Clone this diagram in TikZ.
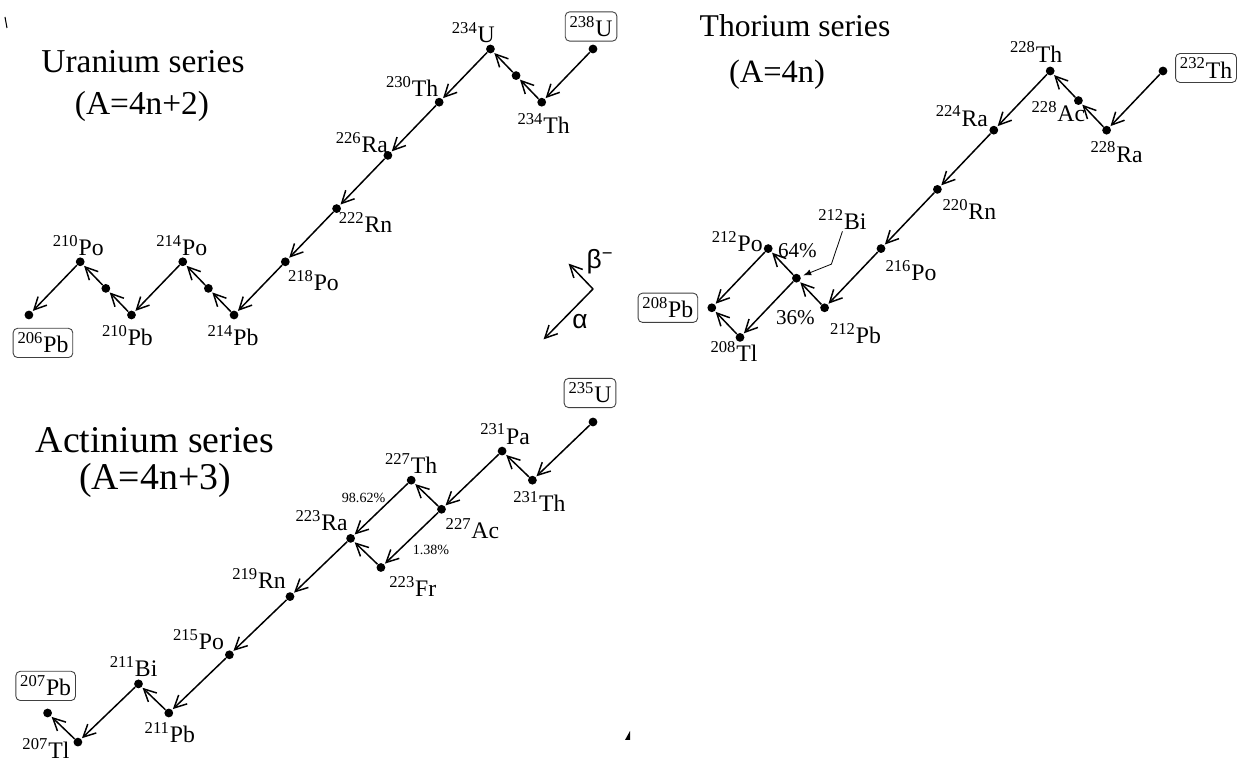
\documentclass[tikz,border=0pt]{standalone}
\usepackage{fontspec}
\setmainfont{Liberation Serif}
\newfontfamily\greekfont{Liberation Sans}
\usetikzlibrary{arrows.meta}

\newcommand{\nuc}[2]{\textsuperscript{#1}#2}

\tikzset{
    dot/.style={circle, fill, inner sep=0pt, minimum size=5pt},
    iso/.style={font=\fontsize{13.5}{15}\selectfont, inner sep=1pt},
    endbox/.style={iso, draw=black!75, line width=0.5pt, rounded corners=2.5pt, inner sep=2.5pt},
    decay/.style={line width=0.85pt, -{Straight Barb[length=7pt,width=7pt]}, shorten >=0.5pt},
    leader/.style={line width=0.45pt, -{Latex[length=4.5pt,width=3.5pt]}, shorten >=1.5pt},
    ttl/.style={font=\fontsize{19}{22}\selectfont, inner sep=0pt},
    frac/.style={font=\fontsize{12}{14}\selectfont, inner sep=0pt},
    smallfrac/.style={font=\fontsize{8}{10}\selectfont, inner sep=0pt},
}

\begin{document}
\begin{tikzpicture}
    \useasboundingbox (0,0) rectangle (24.96,15.28);

    % stray marks of the scan
    \draw[line width=0.6pt] (0.1,14.94) -- (0.14,14.72);
    \fill (12.5,0.48) -- (12.6,0.66) -- (12.6,0.48) -- cycle;

    % Titles
    \node[ttl] (utitle) at (2.86,14.04) {Uranium series};
    \node[ttl] (uform) at (2.84,13.16) {(A=4n+2)};
    \node[ttl, font=\fontsize{18}{21}\selectfont] (ttitle) at (15.9,14.76) {Thorium series};
    \node[ttl, font=\fontsize{18.5}{21}\selectfont] (tform) at (15.54,13.78) {(A=4n)};
    \node[ttl, font=\fontsize{21.5}{24}\selectfont] (atitle) at (3.1,6.48) {Actinium series};
    \node[ttl, font=\fontsize{21.5}{24}\selectfont] (aform) at (3.1,5.68) {(A=4n+3)};

    % Legend: alpha and beta steps
    \coordinate (corner) at (11.86,9.5);
    \coordinate (btip) at (11.36,10.02);
    \coordinate (atip) at (10.86,8.48);
    \draw[decay] (corner) -- (btip);
    \draw[decay] (corner) -- (atip);
    \node[font=\greekfont\fontsize{15}{17}\selectfont, inner sep=0pt] (blab) at (12.0,10.04) {β\textsuperscript{−}};
    \node[font=\greekfont\fontsize{15}{17}\selectfont, inner sep=0pt] (alab) at (11.6,8.84) {α};

    % Uranium series, nodes at (N,Z)
    \begin{scope}[shift={(11.86,14.30)}, x=0.5128cm, y=0.532cm, shift={(-146,-92)}]
        \node[dot] (U238) at (146,92) {};
        \node[dot] (Th234) at (144,90) {};
        \node[dot] (Pa234) at (143,91) {};
        \node[dot] (U234) at (142,92) {};
        \node[dot] (Th230) at (140,90) {};
        \node[dot] (Ra226) at (138,88) {};
        \node[dot] (Rn222) at (136,86) {};
        \node[dot] (Po218) at (134,84) {};
        \node[dot] (Pb214) at (132,82) {};
        \node[dot] (Bi214) at (131,83) {};
        \node[dot] (Po214) at (130,84) {};
        \node[dot] (Pb210) at (128,82) {};
        \node[dot] (Bi210) at (127,83) {};
        \node[dot] (Po210) at (126,84) {};
        \node[dot] (Pb206) at (124,82) {};

        \draw[decay] (U238) -- (Th234);
        \draw[decay] (Th234) -- (Pa234);
        \draw[decay] (Pa234) -- (U234);
        \draw[decay] (U234) -- (Th230);
        \draw[decay] (Th230) -- (Ra226);
        \draw[decay] (Ra226) -- (Rn222);
        \draw[decay] (Rn222) -- (Po218);
        \draw[decay] (Po218) -- (Pb214);
        \draw[decay] (Pb214) -- (Bi214);
        \draw[decay] (Bi214) -- (Po214);
        \draw[decay] (Po214) -- (Pb210);
        \draw[decay] (Pb210) -- (Bi210);
        \draw[decay] (Bi210) -- (Po210);
        \draw[decay] (Po210) -- (Pb206);

        \node[endbox] (lU238) at ([shift={(-1.1pt,12.8pt)}]U238) {\nuc{238}{U}};
        \node[iso] (lTh234) at ([shift={(1.1pt,-11.9pt)}]Th234) {\nuc{234}{Th}};
        \node[iso] (lU234) at ([shift={(-9.7pt,9.1pt)}]U234) {\nuc{234}{U}};
        \node[iso] (lTh230) at ([shift={(-15.4pt,9.1pt)}]Th230) {\nuc{230}{Th}};
        \node[iso] (lRa226) at ([shift={(-14.8pt,7.4pt)}]Ra226) {\nuc{226}{Ra}};
        \node[iso] (lRn222) at ([shift={(16.5pt,-8pt)}]Rn222) {\nuc{222}{Rn}};
        \node[iso] (lPo218) at ([shift={(16pt,-10.8pt)}]Po218) {\nuc{218}{Po}};
        \node[iso] (lPb214) at ([shift={(-0.6pt,-11.9pt)}]Pb214) {\nuc{214}{Pb}};
        \node[iso] (lPo214) at ([shift={(-0.6pt,9.1pt)}]Po214) {\nuc{214}{Po}};
        \node[iso] (lPb210) at ([shift={(-2.3pt,-11.9pt)}]Pb210) {\nuc{210}{Pb}};
        \node[iso] (lPo210) at ([shift={(-1.1pt,9.1pt)}]Po210) {\nuc{210}{Po}};
        \node[endbox] (lPb206) at ([shift={(8pt,-15.9pt)}]Pb206) {\nuc{206}{Pb}};
    \end{scope}

    % Thorium series
    \begin{scope}[shift={(23.26,13.86)}, x=0.564cm, y=0.592cm, shift={(-142,-90)}]
        \node[dot] (Th232) at (142,90) {};
        \node[dot] (Ra228) at (140,88) {};
        \node[dot] (Ac228) at (139,89) {};
        \node[dot] (Th228) at (138,90) {};
        \node[dot] (Ra224) at (136,88) {};
        \node[dot] (Rn220) at (134,86) {};
        \node[dot] (Po216) at (132,84) {};
        \node[dot] (Pb212) at (130,82) {};
        \node[dot] (Bi212) at (129,83) {};
        \node[dot] (Po212) at (128,84) {};
        \node[dot] (Tl208) at (127,81) {};
        \node[dot] (Pb208) at (126,82) {};

        \draw[decay] (Th232) -- (Ra228);
        \draw[decay] (Ra228) -- (Ac228);
        \draw[decay] (Ac228) -- (Th228);
        \draw[decay] (Th228) -- (Ra224);
        \draw[decay] (Ra224) -- (Rn220);
        \draw[decay] (Rn220) -- (Po216);
        \draw[decay] (Po216) -- (Pb212);
        \draw[decay] (Pb212) -- (Bi212);
        \draw[decay] (Bi212) -- (Po212);
        \draw[decay] (Bi212) -- (Tl208);
        \draw[decay] (Po212) -- (Pb208);
        \draw[decay] (Tl208) -- (Pb208);

        \node[endbox] (lTh232) at ([shift={(24.5pt,1.7pt)}]Th232) {\nuc{232}{Th}};
        \node[iso] (lRa228) at ([shift={(5.7pt,-12.5pt)}]Ra228) {\nuc{228}{Ra}};
        \node[iso] (lAc228) at ([shift={(-11.4pt,-6.3pt)}]Ac228) {\nuc{228}{Ac}};
        \node[iso] (lTh228) at ([shift={(-8pt,10.8pt)}]Th228) {\nuc{228}{Th}};
        \node[iso] (lRa224) at ([shift={(-18.2pt,8pt)}]Ra224) {\nuc{224}{Ra}};
        \node[iso] (lRn220) at ([shift={(18.2pt,-11.4pt)}]Rn220) {\nuc{220}{Rn}};
        \node[iso] (lPo216) at ([shift={(17.1pt,-12.5pt)}]Po216) {\nuc{216}{Po}};
        \node[iso] (lPb212) at ([shift={(17.6pt,-14.8pt)}]Pb212) {\nuc{212}{Pb}};
        \node[iso] (lBi212) at ([shift={(26.2pt,33.6pt)}]Bi212) {\nuc{212}{Bi}};
        \node[iso] (lPo212) at ([shift={(-17.6pt,4pt)}]Po212) {\nuc{212}{Po}};
        \node[iso] (lTl208) at ([shift={(-3.4pt,-8pt)}]Tl208) {\nuc{208}{Tl}};
        \node[endbox] (lPb208) at ([shift={(-25pt,0pt)}]Pb208) {\nuc{208}{Pb}};

        % branching of 212Bi
        \coordinate (bend) at ([shift={(19.9pt,8pt)}]Bi212);
        \draw[leader] (lBi212.south) -- (bend) -- (Bi212);
        \node[frac] (p64) at ([shift={(0.6pt,15.9pt)}]Bi212) {64\%};
        \node[frac] (p36) at ([shift={(-0.6pt,-22.2pt)}]Bi212) {36\%};
    \end{scope}

    % Actinium series
    \begin{scope}[shift={(11.86,6.84)}, x=0.606cm, y=0.582cm, shift={(-143,-92)}]
        \node[dot] (U235) at (143,92) {};
        \node[dot] (Th231) at (141,90) {};
        \node[dot] (Pa231) at (140,91) {};
        \node[dot] (Ac227) at (138,89) {};
        \node[dot] (Th227) at (137,90) {};
        \node[dot] (Fr223) at (136,87) {};
        \node[dot] (Ra223) at (135,88) {};
        \node[dot] (Rn219) at (133,86) {};
        \node[dot] (Po215) at (131,84) {};
        \node[dot] (Pb211) at (129,82) {};
        \node[dot] (Bi211) at (128,83) {};
        \node[dot] (Tl207) at (126,81) {};
        \node[dot] (Pb207) at (125,82) {};

        \draw[decay] (U235) -- (Th231);
        \draw[decay] (Th231) -- (Pa231);
        \draw[decay] (Pa231) -- (Ac227);
        \draw[decay] (Ac227) -- (Th227);
        \draw[decay] (Ac227) -- (Fr223);
        \draw[decay] (Th227) -- (Ra223);
        \draw[decay] (Fr223) -- (Ra223);
        \draw[decay] (Ra223) -- (Rn219);
        \draw[decay] (Rn219) -- (Po215);
        \draw[decay] (Po215) -- (Pb211);
        \draw[decay] (Pb211) -- (Bi211);
        \draw[decay] (Bi211) -- (Tl207);
        \draw[decay] (Tl207) -- (Pb207);

        \node[endbox] (lU235) at ([shift={(-1.7pt,16.5pt)}]U235) {\nuc{235}{U}};
        \node[iso] (lTh231) at ([shift={(4pt,-11.9pt)}]Th231) {\nuc{231}{Th}};
        \node[iso] (lPa231) at ([shift={(1.7pt,9.7pt)}]Pa231) {\nuc{231}{Pa}};
        \node[iso] (lAc227) at ([shift={(17.6pt,-10.8pt)}]Ac227) {\nuc{227}{Ac}};
        \node[iso] (lTh227) at ([shift={(0pt,9.7pt)}]Th227) {\nuc{227}{Th}};
        \node[iso] (lFr223) at ([shift={(18.2pt,-10.8pt)}]Fr223) {\nuc{223}{Fr}};
        \node[iso] (lRa223) at ([shift={(-16.5pt,10.2pt)}]Ra223) {\nuc{223}{Ra}};
        \node[iso] (lRn219) at ([shift={(-17.6pt,10.2pt)}]Rn219) {\nuc{219}{Rn}};
        \node[iso] (lPo215) at ([shift={(-17.6pt,8.5pt)}]Po215) {\nuc{215}{Po}};
        \node[iso] (lPb211) at ([shift={(0.6pt,-11.4pt)}]Pb211) {\nuc{211}{Pb}};
        \node[iso] (lBi211) at ([shift={(-2.8pt,9.7pt)}]Bi211) {\nuc{211}{Bi}};
        \node[iso] (lTl207) at ([shift={(-18.2pt,-3.6pt)}]Tl207) {\nuc{207}{Tl}};
        \node[endbox] (lPb207) at ([shift={(-1.1pt,15.4pt)}]Pb207) {\nuc{207}{Pb}};

        % branching of 227Ac
        \node[smallfrac] (p9862) at ([shift={(7.4pt,23.3pt)}]Ra223) {98.62\%};
        \node[smallfrac] (p138) at ([shift={(28.5pt,10.2pt)}]Fr223) {1.38\%};
    \end{scope}
\end{tikzpicture}
\end{document}
